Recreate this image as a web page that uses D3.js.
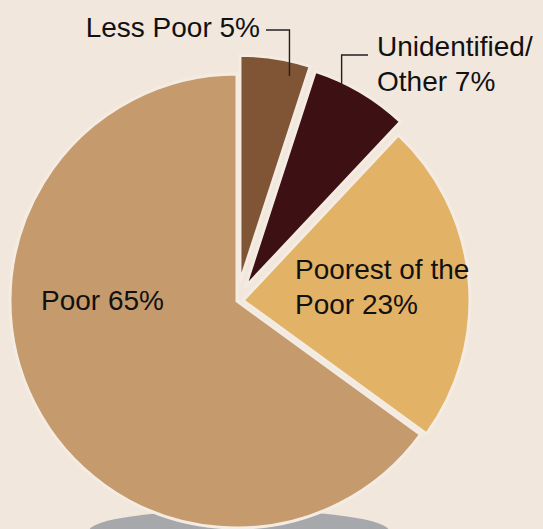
<!DOCTYPE html>
<html>
<head>
<meta charset="utf-8">
<script src="https://cdn.jsdelivr.net/npm/d3@7"></script>
<style>
  html, body { margin: 0; padding: 0; background: #f1e7dc; }
  svg { display: block; }
  text { font-family: "Liberation Sans", Arial, sans-serif; font-size: 28px; fill: #111; }
</style>
</head>
<body>
<svg id="chart" width="543" height="529"></svg>
<script>
// slices, clockwise from 12 o'clock
const categories = ["Less Poor", "Unidentified/Other", "Poorest of the Poor", "Poor"];
const shares = [5, 7, 23, 65];
const labelLines = [["Less Poor 5%"], ["Unidentified/", "Other 7%"], ["Poorest of the", "Poor 23%"], ["Poor 65%"]];

const colors = ["#7f5536", "#3d1014", "#e2b367", "#c59a6d"];
const explode = [19, 16, 6, 0];

const width = 543, height = 529;
const cx = 237, cy = 301, radius = 227;

const svg = d3.select("#chart");

// grey shadow under the pie
svg.append("ellipse")
  .attr("cx", 239).attr("cy", 531)
  .attr("rx", 150).attr("ry", 21)
  .attr("fill", "#a7a8ab");

const pie = d3.pie().sort(null).value(d => d);
const arcs = pie(shares);
const arc = d3.arc().innerRadius(0).outerRadius(radius);

const g = svg.append("g").attr("transform", `translate(${cx},${cy})`);

function shift(d, i) {
  const mid = (d.startAngle + d.endAngle) / 2;
  return [Math.sin(mid) * explode[i], -Math.cos(mid) * explode[i]];
}

g.selectAll("path.slice")
  .data(arcs)
  .join("path")
  .attr("class", "slice")
  .attr("d", arc)
  .attr("fill", (d, i) => colors[i])
  .attr("stroke", "#f4ece2")
  .attr("stroke-width", 3)
  .attr("stroke-linejoin", "miter")
  .attr("transform", (d, i) => `translate(${shift(d, i)})`);

// label anchors, plus leader elbow for the small slices
const labelPos = [
  { x: 260, y: 37, anchor: "end", leader: { elbowX: 291, lineY: 30, startX: 266, frac: 0.75 } },
  { x: 377, y: 56, anchor: "start", leader: { elbowX: 343, lineY: 55, startX: 368, frac: 0.36 } },
  { x: 295, y: 279, anchor: "start" },
  { x: 41, y: 310, anchor: "start" }
];
const lineHeight = 35;

arcs.forEach((d, i) => {
  const p = labelPos[i];
  const t = svg.append("text")
    .attr("x", p.x).attr("y", p.y)
    .attr("text-anchor", p.anchor);
  labelLines[i].forEach((s, k) => {
    t.append("tspan").attr("x", p.x).attr("dy", k === 0 ? 0 : lineHeight).text(s);
  });
  if (p.leader) {
    const L = p.leader;
    const [sx, sy] = shift(d, i);
    const a = d.startAngle + (d.endAngle - d.startAngle) * L.frac;
    const r = radius - 15;
    const ex = cx + sx + Math.sin(a) * r;
    const ey = cy + sy - Math.cos(a) * r;
    svg.append("path")
      .attr("d", `M${L.startX},${L.lineY}H${ex}V${ey}`)
      .attr("fill", "none")
      .attr("stroke", "#231f20")
      .attr("stroke-width", 1.4);
  }
});
</script>
</body>
</html>
